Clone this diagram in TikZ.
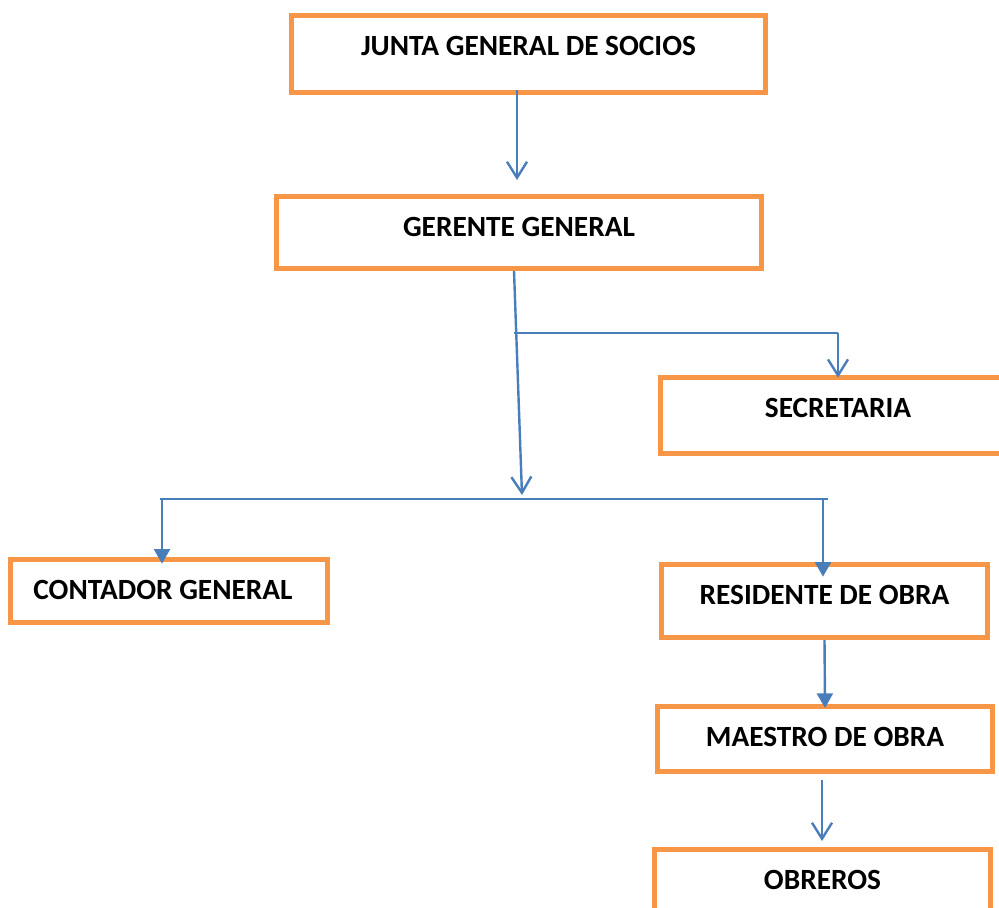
\documentclass[tikz,border=0pt]{standalone}
\usepackage{fontspec}
\setmainfont{Carlito}
\usetikzlibrary{arrows.meta}

\definecolor{naranja}{HTML}{F79646}
\definecolor{azul}{HTML}{4A7EBB}

\tikzset{
  cargo/.style={draw=naranja, line width=3.75pt, fill=white, inner sep=0pt},
  titulo/.style={anchor=north, inner sep=0pt, yshift=-17.5pt, font=\fontsize{22}{25}\selectfont\bfseries},
  linea/.style={draw=azul, line width=1.8pt},
  abierta/.style={-{Straight Barb[length=12pt,width=15pt,line width=1.8pt]}},
  lleno/.style={-{Triangle[length=11pt,width=12pt]}}
}

\begin{document}
\begin{tikzpicture} [x=0.75pt, y=-0.75pt]
\useasboundingbox (0,0) rectangle (999,907);
\fill[white] (0,0) rectangle (999,907);
\clip (0,0) rectangle (999,907);

% cajas
\node[cargo, minimum width=355.5pt, minimum height=57.75pt, label={[titulo]north:JUNTA GENERAL DE SOCIOS}] (junta) at (528.5,54) {};
\node[cargo, minimum width=363.75pt, minimum height=54pt, label={[titulo]north:GERENTE GENERAL}] (gerente) at (519,232.5) {};
\node[cargo, minimum width=266.25pt, minimum height=57pt, label={[titulo]north:SECRETARIA}] (secretaria) at (838,415.5) {};
\node[cargo, minimum width=237.75pt, minimum height=47.25pt, label={[titulo, xshift=-4.5pt]north:CONTADOR GENERAL}] (contador) at (169,591) {};
\node[cargo, minimum width=244.5pt, minimum height=54.75pt, label={[titulo]north:RESIDENTE DE OBRA}] (residente) at (824.5,601) {};
\node[cargo, minimum width=251.25pt, minimum height=48.75pt, label={[titulo]north:MAESTRO DE OBRA}] (maestro) at (825,739) {};
\node[cargo, minimum width=252pt, minimum height=58.5pt, label={[titulo]north:OBREROS}] (obreros) at (822.5,888.5) {};

% puntos de las ramas
\coordinate (g1) at (514,333);
\coordinate (s1) at (838,333);
\coordinate (nudo) at (522,495);
\coordinate (r1) at (160,499);
\coordinate (c1) at (162,499);
\coordinate (r2) at (828,499);
\coordinate (d1) at (823,499);

% conectores
\draw[linea, abierta, shorten <=-4pt, shorten >=10.5pt] (junta.south -| 517,0) -- (gerente.north -| 517,0);
\draw[linea, abierta] (gerente.south -| g1) -- (nudo);
\draw[linea] (g1) -- (s1);
\draw[linea, abierta, shorten >=-2pt] (s1) -- (secretaria.north);
\draw[linea] (r1) -- (r2);
\draw[linea, lleno, shorten >=-5pt] (c1) -- (c1 |- contador.north);
\draw[linea, lleno, shorten >=-11pt] (d1) -- (d1 |- residente.north);
\draw[linea, lleno, shorten >=-3pt] (residente.south) -- (maestro.north);
\draw[linea, abierta, shorten <=4.5pt, shorten >=4.5pt] (maestro.south -| 822,0) -- (obreros.north -| 822,0);

\end{tikzpicture}
\end{document}
